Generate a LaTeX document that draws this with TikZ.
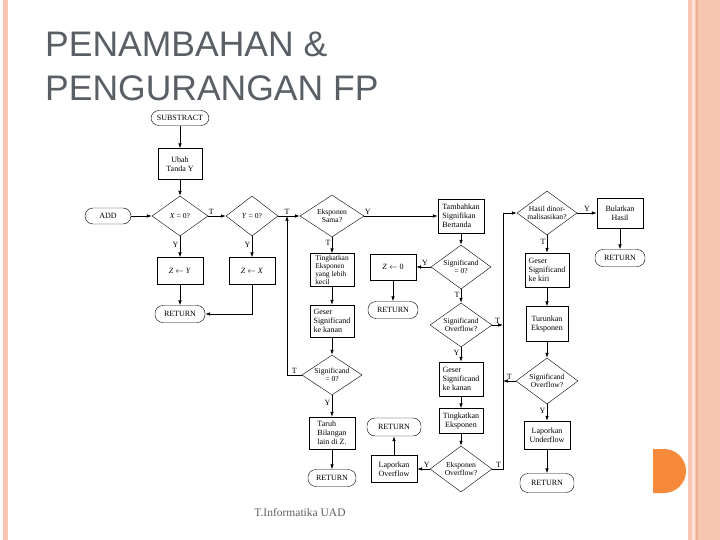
\documentclass[tikz,border=0pt]{standalone}
\usepackage{fontspec}
\setmainfont{Liberation Serif}
\newfontfamily\titlefont{Liberation Sans}
\usepackage{xcolor}
\definecolor{slidePeach}{HTML}{F8C6B0}
\definecolor{slidePeachDark}{HTML}{F2B096}
\definecolor{slideOrange}{HTML}{F7893A}
\definecolor{titleGray}{HTML}{5A5F66}
\usetikzlibrary{shapes.geometric,arrows.meta,calc}

\begin{document}
\begin{tikzpicture}[x=1pt, y=-1pt,
  box/.style={draw, rectangle, inner sep=1pt, minimum width=44pt, minimum height=26pt,
              align=center, font=\fontsize{8}{9}\selectfont},
  term/.style={draw, rectangle, rounded corners=8pt, inner sep=1pt, minimum width=50pt,
               minimum height=17pt, font=\fontsize{8}{9}\selectfont},
  dec/.style={draw, diamond, aspect=1.4, inner sep=-4pt, minimum width=60pt, minimum height=42pt,
              align=center, font=\fontsize{7.6}{8.6}\selectfont},
  arr/.style={-{Latex[length=5pt,width=3.5pt]}, line width=0.65pt},
  lbl/.style={font=\fontsize{8}{8.5}\selectfont, inner sep=1.2pt}
]
% slide background
\fill[white] (0,0) rectangle (720,540);
\useasboundingbox (0,0) rectangle (720,540);
\fill[slidePeach] (3,0) rectangle (8,540);
\fill[slidePeach] (688,0) rectangle (720,540);
\fill[slidePeach!50] (692,0) rectangle (694.5,540);
\fill[slidePeachDark] (696,0) rectangle (698,540);
\fill[slideOrange] (653,449) -- (664,449) arc[start angle=-90, end angle=90, radius=22] -- (653,493) -- cycle;

\node[anchor=base west, inner sep=0, text=titleGray, font=\titlefont\fontsize{35.5}{40}\selectfont] (title1) at (45,57) {PENAMBAHAN \&};
\node[anchor=base west, inner sep=0, text=titleGray, font=\titlefont\fontsize{35.5}{40}\selectfont] (title2) at (45,101) {PENGURANGAN FP};
\node[text=titleGray, font=\fontsize{11.5}{13}\selectfont] (footer) at (300,513) {T.Informatika UAD};

% column 1 and 2
\node[term, minimum width=58pt, minimum height=15pt] (sub) at (180,118) {SUBSTRACT};
\node[box, minimum height=31pt] (ubah) at (180,164) {Ubah\\Tanda Y};
\node[dec, minimum width=56pt, minimum height=40pt] (xz) at (180,216) {\textit{X} = 0?};
\node[term, minimum width=46pt, minimum height=16pt] (add) at (108,216) {ADD};
\node[box, minimum width=46pt, minimum height=27pt] (zy) at (180,271) {\textit{Z} $\leftarrow$ \textit{Y}};
\node[term] (ret1) at (180,314) {RETURN};
\node[dec, minimum width=52pt, minimum height=40pt] (yz) at (252,216) {\textit{Y} = 0?};
\node[box, minimum width=46pt, minimum height=27pt] (zx) at (252,271) {\textit{Z} $\leftarrow$ \textit{X}};
\coordinate (j1) at (287,216);

% column 3
\node[dec, minimum width=64pt, minimum height=42pt] (eks) at (332,216) {Eksponen\\Sama?};
\node[box, minimum height=33pt, align=left, font=\fontsize{7.4}{7.8}\selectfont] (tingk) at (332,270) {Tingkatkan\\Eksponen\\yang lebih\\kecil};
\node[box, minimum height=32pt, align=left] (geser1) at (332,321) {Geser\\Significand\\ke kanan};
\node[dec, minimum height=40pt] (sz1) at (332,375) {Significand\\= 0?};
\node[box, minimum width=46pt, minimum height=32pt, align=left] (taruh) at (332,433) {Taruh\\Bilangan\\lain di Z.};
\node[term, minimum width=48pt] (ret3) at (332,478) {RETURN};

% column 4
\node[box, minimum width=46pt] (nol) at (393,267) {\textit{Z} $\leftarrow$ 0};
\node[term] (ret2) at (393,310) {RETURN};
\node[term, minimum width=54pt, minimum height=18pt] (ret4) at (394,427) {RETURN};
\node[box, minimum width=46pt, minimum height=27pt] (lapo) at (394,469) {Laporkan\\Overflow};

% column 5
\node[box, minimum width=46pt, minimum height=34pt, align=left] (tamb) at (461,216) {Tambahkan\\Signifikan\\Bertanda};
\node[dec, minimum height=44pt] (sz2) at (461,267) {Significand\\= 0?};
\node[dec, minimum width=62pt, minimum height=44pt] (so1) at (461,325) {Significand\\Overflow?};
\node[box, minimum height=34pt, align=left] (geser2) at (461,379) {Geser\\Significand\\ke kanan};
\node[box, minimum height=25pt] (tingk2) at (461,421) {Tingkatkan\\Eksponen};
\node[dec, minimum width=62pt, minimum height=46pt] (eo) at (461,469) {Eksponen\\Overflow?};
\coordinate (loopx) at (503,213);

% column 6
\node[dec, minimum width=60pt, minimum height=44pt] (hasil) at (547,213) {Hasil dinor-\\malisasikan?};
\node[box, minimum width=46pt, minimum height=30pt] (bulat) at (620,213) {Bulatkan\\Hasil};
\node[term] (ret5) at (620,258) {RETURN};
\node[box, minimum height=34pt, align=left] (geserk) at (547,270) {Geser\\Significand\\ke kiri};
\node[box, minimum width=42pt, minimum height=35pt] (turun) at (547,324) {Turunkan\\Eksponen};
\node[dec, minimum width=62pt, minimum height=46pt] (so2) at (547,381) {Significand\\Overflow?};
\node[box, minimum width=46pt, minimum height=28pt] (lapu) at (547,435) {Laporkan\\Underflow};
\node[term, minimum width=54pt, minimum height=19pt] (ret6) at (547,483) {RETURN};

% connectors
\draw[arr] (sub) -- (ubah);
\draw[arr] (ubah) -- (xz);
\draw[arr] (add) -- (xz);
\draw[arr] (xz) -- node[lbl, above, pos=0.17]{T} (yz);
\draw[arr] (xz) -- node[lbl, left, pos=0.4]{Y} (zy);
\draw[arr] (yz) -- node[lbl, left, pos=0.4]{Y} (zx);
\draw[arr] (zy) -- (ret1);
\draw[arr] (zx.south) |- (ret1.east);
\draw[arr] (yz.east) -- (eks.west);
\node[lbl, above] (tj1) at (j1) {T};
\draw[arr] (sz1.west) -- node[lbl, above, pos=0.5]{T} (sz1.west -| j1) -- (j1);
\draw[arr] (eks) -- node[lbl, left, pos=0.35]{T} (tingk);
\draw[arr] (tingk) -- (geser1);
\draw[arr] (geser1) -- (sz1);
\draw[arr] (sz1) -- node[lbl, left, pos=0.35]{Y} (taruh);
\draw[arr] (taruh) -- (ret3);
\draw[arr] (eks) -- node[lbl, above, pos=0.05]{Y} (tamb);
\draw[arr] (tamb) -- (sz2);
\draw[arr] (sz2) -- node[lbl, above, pos=0.4]{Y} (nol);
\draw[arr] (nol) -- (ret2);
\draw[arr] (sz2) -- node[lbl, left, pos=0.4]{T} (so1);
\draw[arr] (so1) -- node[lbl, left, pos=0.4]{Y} (geser2);
\draw[arr] (so1.east) -- node[lbl, above, pos=0.5]{T} (so1.east -| loopx);
\draw[arr] (geser2) -- (tingk2);
\draw[arr] (tingk2) -- (eo);
\draw[arr] (eo) -- node[lbl, above, pos=0.25]{Y} (lapo);
\draw[arr] (lapo) -- (ret4);
\draw[arr] (eo.east) -- node[lbl, above, pos=0.6]{T} (eo.east -| loopx) -- (loopx |- hasil.west) -- (hasil.west);
\draw[arr] (hasil) -- node[lbl, above, pos=0.5]{Y} (bulat);
\draw[arr] (bulat) -- (ret5);
\draw[arr] (hasil) -- node[lbl, left, pos=0.4]{T} (geserk);
\draw[arr] (geserk) -- (turun);
\draw[arr] (turun) -- (so2);
\draw[arr] (so2.west) -- node[lbl, above, pos=0.5]{T} (so2.west -| loopx);
\draw[arr] (so2) -- node[lbl, left, pos=0.4]{Y} (lapu);
\draw[arr] (lapu) -- (ret6);
\end{tikzpicture}
\end{document}
